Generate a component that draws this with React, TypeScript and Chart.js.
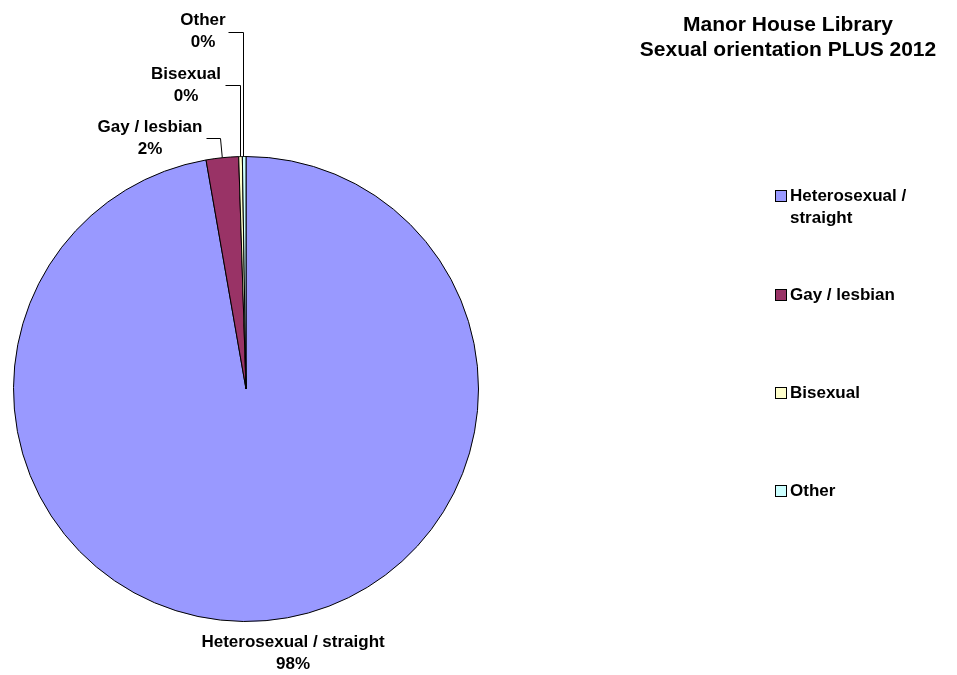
import React, { useEffect, useRef } from "react";
import { Chart, registerables } from "chart.js";

Chart.register(...registerables);

const categories = ["Heterosexual / straight", "Gay / lesbian", "Bisexual", "Other"];
const values = [97.25, 2.25, 0.25, 0.25];
const percentLabels = ["98%", "2%", "0%", "0%"];
const legendLines = [["Heterosexual /", "straight"], ["Gay / lesbian"], ["Bisexual"], ["Other"]];
const colors = ["#9999FF", "#993366", "#FFFFCC", "#CCFFFF"];
const titleLines = ["Manor House Library", "Sexual orientation PLUS 2012"];

const FONT = "'Liberation Sans', Arial, sans-serif";

const overlayPlugin = {
  id: "overlay",
  afterDraw(chart: any) {
    const ctx = chart.ctx as CanvasRenderingContext2D;
    const meta = chart.getDatasetMeta(0);
    ctx.save();
    ctx.fillStyle = "#000";
    ctx.textAlign = "center";
    ctx.textBaseline = "middle";

    // Title
    ctx.font = `bold 21px ${FONT}`;
    ctx.fillText(titleLines[0], 788, 25);
    ctx.fillText(titleLines[1], 788, 50);

    // Legend
    const legendY = [196, 295, 393, 491];
    ctx.font = `bold 17px ${FONT}`;
    legendLines.forEach((lines, i) => {
      const y = legendY[i];
      ctx.fillStyle = colors[i];
      ctx.fillRect(775.5, y - 5.5, 11, 11);
      ctx.strokeStyle = "#000";
      ctx.lineWidth = 1;
      ctx.strokeRect(775.5, y - 5.5, 11, 11);
      ctx.fillStyle = "#000";
      ctx.textAlign = "left";
      lines.forEach((ln, j) => ctx.fillText(ln, 790, y + j * 22));
    });

    // Data labels
    const arcs = meta.data;
    const pt = (i: number, frac: number) => {
      const a = arcs[i];
      const p = a.getProps(["x", "y", "startAngle", "endAngle", "outerRadius"], true);
      const ang = p.startAngle + (p.endAngle - p.startAngle) * frac;
      return { x: p.x + Math.cos(ang) * p.outerRadius, y: p.y + Math.sin(ang) * p.outerRadius };
    };
    ctx.textAlign = "center";
    ctx.font = `bold 17px ${FONT}`;

    // Heterosexual label below pie
    const h = pt(0, 0.5);
    ctx.fillText(categories[0], h.x + 27, h.y + 22);
    ctx.fillText(percentLabels[0], h.x + 27, h.y + 44);

    ctx.strokeStyle = "#000";
    ctx.lineWidth = 1;

    // Gay / lesbian
    const g = pt(1, 0.5);
    ctx.beginPath();
    ctx.moveTo(206.5, 138.5);
    ctx.lineTo(220.5, 138.5);
    ctx.lineTo(g.x, g.y);
    ctx.stroke();
    ctx.fillText(categories[1], 150, 127);
    ctx.fillText(percentLabels[1], 150, 149);

    // Bisexual
    const b = pt(2, 0.5);
    ctx.beginPath();
    ctx.moveTo(225.5, 85.5);
    ctx.lineTo(Math.round(b.x) - 0.5, 85.5);
    ctx.lineTo(Math.round(b.x) - 0.5, b.y);
    ctx.stroke();
    ctx.fillText(categories[2], 186, 74);
    ctx.fillText(percentLabels[2], 186, 96);

    // Other
    const o = pt(3, 0.5);
    ctx.beginPath();
    ctx.moveTo(228.5, 32.5);
    ctx.lineTo(Math.round(o.x) - 0.5, 32.5);
    ctx.lineTo(Math.round(o.x) - 0.5, o.y);
    ctx.stroke();
    ctx.fillText(categories[3], 203, 20);
    ctx.fillText(percentLabels[3], 203, 42);

    ctx.restore();
  },
};

export default function App() {
  const ref = useRef<HTMLCanvasElement | null>(null);
  useEffect(() => {
    document.body.style.margin = "0";
    const chart = new Chart(ref.current as HTMLCanvasElement, {
      type: "pie",
      data: {
        labels: categories,
        datasets: [
          {
            data: values,
            backgroundColor: colors,
            borderColor: "#000",
            borderWidth: 1,
          },
        ],
      },
      options: {
        animation: false,
        responsive: false,
        devicePixelRatio: 1,
        layout: { padding: { left: 13, top: 156, right: 478, bottom: 53 } },
        plugins: {
          legend: { display: false },
          title: { display: false },
          tooltip: { enabled: false },
        },
      },
      plugins: [overlayPlugin],
    });
    return () => chart.destroy();
  }, []);
  return (
    <div style={{ position: "absolute", left: 0, top: 0, width: 957, height: 675, background: "#fff" }}>
      <canvas ref={ref} width={957} height={675} style={{ width: 957, height: 675 }} />
    </div>
  );
}
